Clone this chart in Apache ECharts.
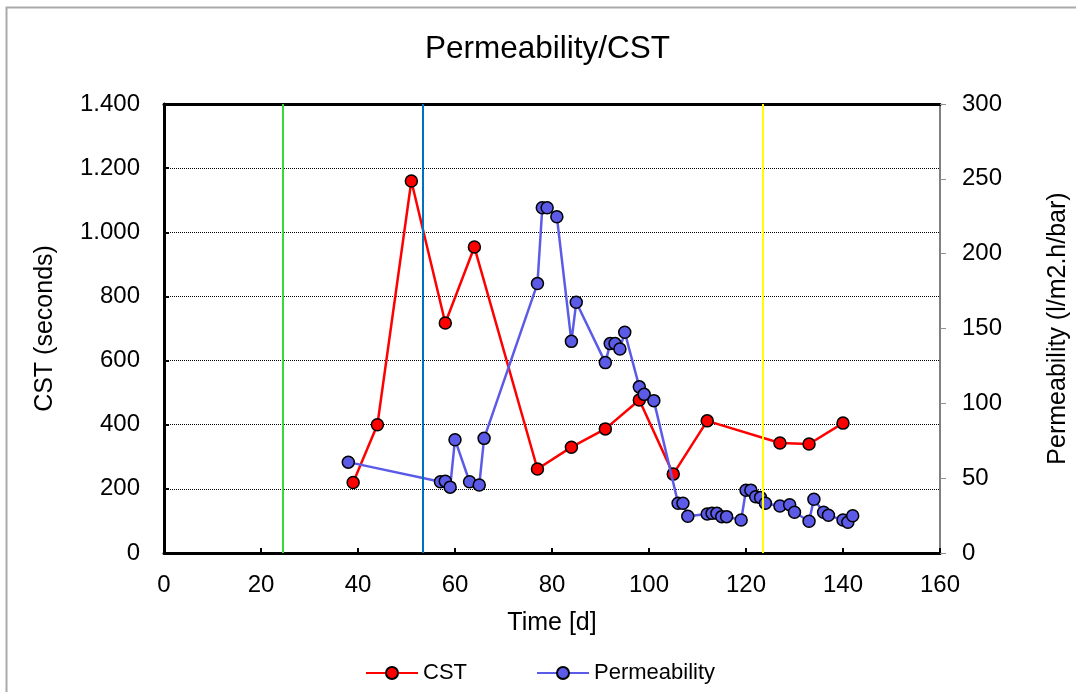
<!DOCTYPE html>
<html>
<head>
<meta charset="utf-8">
<script src="https://cdn.jsdelivr.net/npm/echarts@6/dist/echarts.min.js"></script>
<style>
  html, body { margin: 0; padding: 0; background: #fff; }
  #chart { width: 1076px; height: 692px; }
</style>
</head>
<body>
<div id="chart"></div>
<script>
// CST (left axis)
const cstDays = [39, 44, 51, 58, 64, 77, 84, 91, 98, 105, 112, 127, 133, 140]
const cstValues = [220, 400, 1160, 717, 954, 262, 330, 387, 477, 246, 412, 343, 340, 405]

// Permeability (right axis)
const permDays = [38, 57, 58, 59, 60, 63, 65, 66, 77, 78, 79, 81, 84, 85, 91, 92, 93, 94, 95,
  98, 99, 101, 106, 107, 108, 112, 113, 114, 115, 116, 119, 120, 121, 122, 123, 124,
  127, 129, 130, 133, 134, 136, 137, 140, 141, 142]
const permValues = [60.7, 47.6, 48, 44, 75.7, 47.6, 45.4, 76.6, 180, 230.7, 230.7, 224.7, 141.4, 167.5,
  127.2, 139.9, 139.9, 136.3, 147.5, 111, 106, 101.8, 33.2, 33.2, 24.5, 26, 26.5, 26.5, 24.3, 24.3,
  22, 41.9, 42, 37.6, 37, 33.2, 31.4, 32.3, 27.2, 21.2, 35.9, 27.2, 25.2, 22, 20.5, 24.9]

// vertical marker lines (days)
const markerDays = [24.5, 53.4, 123.5]
const markerColors = ['#33dd33', '#0070c0', '#ffff00']

const pairs = (xs, ys) => xs.map((x, i) => [x, ys[i]])
const font = 'Liberation Sans, Arial, sans-serif'

const chart = echarts.init(document.getElementById('chart'))

chart.setOption({
  animation: false,
  textStyle: { fontFamily: font, color: '#000' },
  title: {
    text: 'Permeability/CST',
    left: 420,
    top: 28,
    textStyle: { fontSize: 31.5, fontWeight: 'normal', color: '#000', fontFamily: font }
  },
  graphic: [{
    type: 'rect',
    shape: { x: 6.5, y: 7.5, width: 1200, height: 800 },
    style: { fill: 'none', stroke: '#aaaaaa', lineWidth: 2 },
    silent: true
  }],
  legend: {
    left: 360,
    top: 657,
    itemWidth: 52,
    itemHeight: 15,
    itemGap: 69,
    textStyle: { fontSize: 22, color: '#000', fontFamily: font },
    data: ['CST', 'Permeability']
  },
  grid: { left: 164, right: 136, top: 104, bottom: 139, outerBoundsMode: 'none' },
  xAxis: [{
    type: 'value',
    min: 0,
    max: 160,
    interval: 20,
    name: 'Time [d]',
    nameLocation: 'middle',
    nameGap: 58,
    nameTextStyle: { fontSize: 25, color: '#000' },
    axisLine: { onZero: false, lineStyle: { color: '#000', width: 3 } },
    axisTick: { inside: true, length: 5, lineStyle: { color: '#000', width: 2 } },
    axisLabel: { fontSize: 24, color: '#000', margin: 20 },
    splitLine: { show: false }
  }, {
    type: 'value',
    position: 'top',
    min: 0,
    max: 160,
    axisLine: { onZero: false, lineStyle: { color: '#000', width: 3 } },
    axisTick: { show: false },
    axisLabel: { show: false },
    splitLine: { show: false }
  }],
  yAxis: [{
    type: 'value',
    min: 0,
    max: 1400,
    interval: 200,
    name: 'CST (seconds)',
    nameLocation: 'middle',
    nameGap: 106,
    nameTextStyle: { fontSize: 25, color: '#000' },
    axisLine: { show: true, onZero: false, lineStyle: { color: '#000', width: 3 } },
    axisTick: { show: true, inside: true, length: 5, lineStyle: { color: '#000', width: 2 } },
    axisLabel: {
      fontSize: 24,
      color: '#000',
      margin: 24,
      formatter: v => v >= 1000 ? Math.floor(v / 1000) + '.' + String(v % 1000).padStart(3, '0') : String(v)
    },
    splitLine: { show: true, lineStyle: { color: '#000', type: 'dotted', width: 1 } }
  }, {
    type: 'value',
    position: 'right',
    min: 0,
    max: 300,
    interval: 50,
    name: 'Permeability (l/m2.h/bar)',
    nameLocation: 'middle',
    nameGap: 106,
    nameTextStyle: { fontSize: 25, color: '#000' },
    axisLine: { show: true, onZero: false, lineStyle: { color: '#808080', width: 2 } },
    axisTick: { show: true, length: 6, lineStyle: { color: '#909090', width: 1 } },
    axisLabel: { fontSize: 24, color: '#000', margin: 22 },
    splitLine: { show: false }
  }],
  series: [{
    name: 'CST',
    type: 'line',
    yAxisIndex: 0,
    data: pairs(cstDays, cstValues),
    symbol: 'circle',
    symbolSize: 12,
    lineStyle: { color: '#ff0000', width: 2.5 },
    itemStyle: { color: '#ff0000', borderColor: '#000', borderWidth: 1.5 },
    markLine: {
      silent: true,
      symbol: 'none',
      label: { show: false },
      animation: false,
      data: markerDays.map((d, i) => ({
        xAxis: d,
        lineStyle: { color: markerColors[i], type: 'solid', width: 2 }
      }))
    },
    z: 3
  }, {
    name: 'Permeability',
    type: 'line',
    yAxisIndex: 1,
    data: pairs(permDays, permValues),
    symbol: 'circle',
    symbolSize: 12,
    lineStyle: { color: '#5b5be8', width: 2.5 },
    itemStyle: { color: '#5b5be8', borderColor: '#000', borderWidth: 1.5 },
    z: 4
  }]
})
</script>
</body>
</html>
